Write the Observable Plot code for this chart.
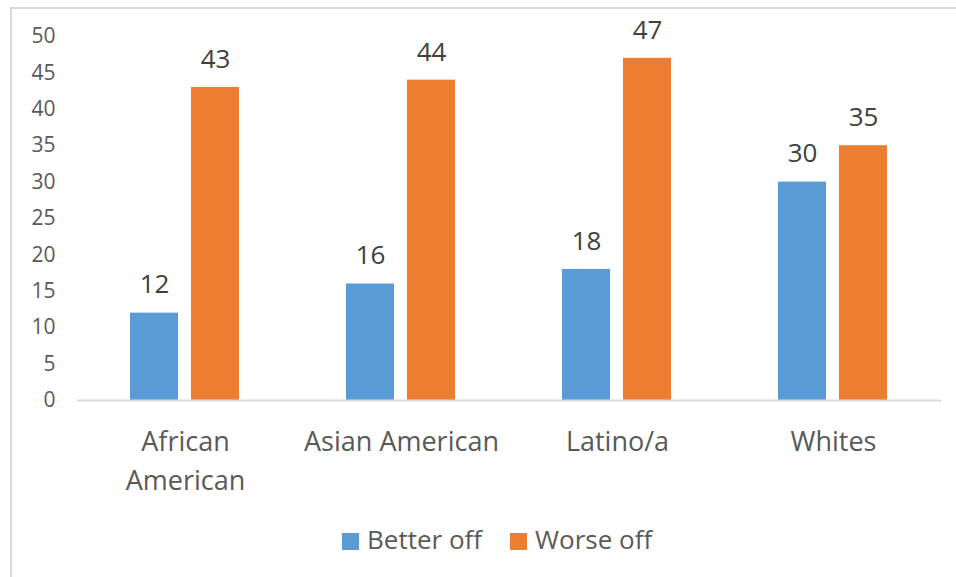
<!DOCTYPE html>
<html>
<head>
<meta charset="utf-8">
<script src="https://cdn.jsdelivr.net/npm/d3@7"></script>
<script src="https://cdn.jsdelivr.net/npm/@observablehq/plot@0.6"></script>
<style>
  html, body { margin: 0; padding: 0; background: #fff; overflow: hidden; width: 956px; height: 577px; }
  #wrap { position: relative; width: 956px; height: 577px; font-family: 'Open Sans', sans-serif; }
  #frame { position: absolute; left: 10px; top: 7px; width: 2000px; height: 2000px; border: 2px solid #d9d9d9; box-sizing: border-box; }
  #chart { position: absolute; left: 0; top: 0; }
  #legend { position: absolute; left: 342px; top: 521px; height: 36px; display: flex; align-items: center; font-size: 26px; color: #595959; white-space: nowrap; }
  #legend .item { display: flex; align-items: center; }
  #legend .sw { width: 17px; height: 17px; margin-right: 8px; margin-top: 4px; display: inline-block; }
  #legend .item + .item { margin-left: 28px; }
</style>
</head>
<body>
<div id="wrap">
  <div id="frame"></div>
  <div id="chart"></div>
  <div id="legend"></div>
</div>
<script>
const categories = ["African American", "Asian American", "Latino/a", "Whites"];
const categoryLabels = ["African\nAmerican", "Asian American", "Latino/a", "Whites"];
const seriesNames = ["Better off", "Worse off"];
const betterOff = [12, 16, 18, 30];
const worseOff = [43, 44, 47, 35];
const yTicks = [0, 5, 10, 15, 20, 25, 30, 35, 40, 45, 50];
const seriesColors = ["#5b9bd5", "#ed7d31"];

const data = categories.flatMap((c, i) => [
  {category: c, series: seriesNames[0], value: betterOff[i]},
  {category: c, series: seriesNames[1], value: worseOff[i]}
]);

const chart = Plot.plot({
  width: 956,
  height: 510,
  marginLeft: 75,
  marginRight: 14,
  marginTop: 36,
  marginBottom: 110,
  style: {fontFamily: "'Open Sans', sans-serif", fontSize: "21px", color: "#595959", background: "transparent", overflow: "visible"},
  fx: {domain: categories, padding: 0, axis: null, label: null},
  x: {domain: seriesNames, paddingInner: 0.21, paddingOuter: 0.855, axis: null},
  y: {domain: [0, 50], ticks: yTicks, tickSize: 0, tickPadding: 22, label: null},
  color: {domain: seriesNames, range: seriesColors},
  marks: [
    Plot.barY(data, {fx: "category", x: "series", y: "value", fill: "series"}),
    Plot.text(data, {fx: "category", x: "series", y: "value", text: d => String(d.value), dy: -28, fontSize: 26, fill: "#404040"}),
    Plot.text(categories, {fx: d => d, text: d => categoryLabels[categories.indexOf(d)], frameAnchor: "bottom", lineAnchor: "top", dy: 23.5, fontSize: 27, lineHeight: 1.43, fill: "#595959"}),
    Plot.ruleY([0], {stroke: "#d9d9d9", strokeWidth: 2})
  ]
});
document.getElementById("chart").appendChild(chart);

const legend = document.getElementById("legend");
seriesNames.forEach((s, i) => {
  const item = document.createElement("div");
  item.className = "item";
  const sw = document.createElement("span");
  sw.className = "sw";
  sw.style.background = seriesColors[i];
  const label = document.createElement("span");
  label.textContent = s;
  item.appendChild(sw);
  item.appendChild(label);
  legend.appendChild(item);
});
</script>
</body>
</html>
